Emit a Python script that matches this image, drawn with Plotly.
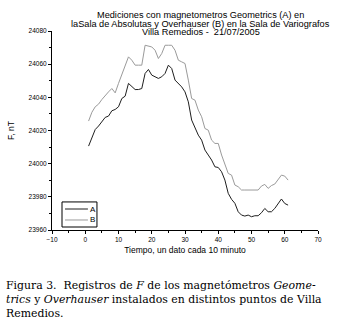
import plotly.graph_objects as go

x_vals = list(range(1, 62))

series_a = [24010.6, 24016.0, 24020.6, 24022.7, 24025.3, 24027.9, 24028.7, 24031.9, 24032.7, 24034.3,
            24039.3, 24040.7, 24048.4, 24046.3, 24044.7, 24044.7, 24045.3, 24054.4, 24056.8, 24053.4,
            24052.5, 24051.4, 24052.4, 24054.4, 24059.4, 24057.4, 24050.4, 24048.4, 24046.3, 24043.3,
            24037.3, 24026.3, 24021.2, 24017.2, 24014.2, 24008.2, 24005.2, 24002.2, 23998.1, 23997.7,
            23995.1, 23990.1, 23982.1, 23978.5, 23976.1, 23971.0, 23969.0, 23968.4, 23969.0, 23968.0,
            23968.6, 23968.6, 23970.4, 23973.0, 23971.0, 23971.0, 23973.0, 23976.0, 23978.7, 23976.0,
            23975.0]

series_b = [24025.7, 24031.0, 24034.3, 24035.9, 24038.7, 24041.3, 24043.3, 24045.3, 24042.7, 24048.4,
            24053.4, 24059.4, 24064.4, 24062.4, 24059.4, 24059.4, 24059.4, 24071.4, 24070.8, 24070.4,
            24068.4, 24063.4, 24066.4, 24071.4, 24071.4, 24071.4, 24068.4, 24062.4, 24061.4, 24060.4,
            24050.4, 24039.3, 24038.3, 24032.3, 24028.3, 24021.2, 24020.2, 24014.2, 24012.2, 24012.2,
            24005.2, 24000.2, 23994.1, 23993.1, 23987.1, 23986.1, 23984.1, 23984.1, 23984.1, 23984.1,
            23984.1, 23984.1, 23986.5, 23987.5, 23985.1, 23986.8, 23987.7, 23990.1, 23993.1, 23992.5,
            23990.1]

series_names = ["A", "B"]
series_colors = ["#1e1e1e", "#9a9a9a"]

title_lines = ["Mediciones con magnetometros Geometrics (A) en",
               "laSala de Absolutas y Overhauser (B) en la Sala de Variografos",
               "Villa Remedios -  21/07/2005"]

caption_lines = ["Figura 3.  Registros de <i>F</i> de los magnetómetros <i>Geome-</i>",
                 "<i>trics</i> y <i>Overhauser</i> instalados en distintos puntos de Villa",
                 "Remedios."]

fig = go.Figure()
for name, ys, col in zip(series_names, [series_a, series_b], series_colors):
    fig.add_trace(go.Scatter(x=x_vals, y=ys, mode="lines", name=name,
                             line=dict(color=col, width=1), showlegend=False))

sans = "Liberation Sans, Arial, sans-serif"
axis_common = dict(showline=True, linecolor="black", linewidth=1, showgrid=False, zeroline=False,
                   ticks="outside", ticklen=3, tickwidth=1, tickcolor="black", tickformat="d",
                   tickfont=dict(family=sans, size=6.5, color="black"))

fig.update_layout(
    width=342, height=325,
    margin=dict(l=52, r=24, t=31, b=95),
    paper_bgcolor="white", plot_bgcolor="white",
    showlegend=False,
    xaxis=dict(range=[-10, 70], dtick=10, tick0=0,
               minor=dict(ticks="outside", ticklen=2, dtick=5, tickcolor="black"),
               title=dict(text="Tiempo, un dato cada 10 minuto", standoff=5,
                          font=dict(family=sans, size=8.5, color="black")),
               **axis_common),
    yaxis=dict(range=[23960, 24080], dtick=20, tick0=23960,
               minor=dict(ticks="outside", ticklen=2, dtick=10, tickcolor="black"),
               title=dict(text="F, nT", standoff=12,
                          font=dict(family=sans, size=8.5, color="black")),
               **axis_common),
)

# compact legend box (drawn in paper coordinates, like the original's small framed key)
fig.add_shape(type="rect", xref="paper", yref="paper", x0=0.0376, x1=0.169, y0=0.015, y1=0.141,
              line=dict(color="black", width=1), fillcolor="white", layer="above")
for name, col, ly in zip(series_names, series_colors, [0.1055, 0.0503]):
    fig.add_shape(type="line", xref="paper", yref="paper", x0=0.049, x1=0.135, y0=ly, y1=ly,
                  line=dict(color=col, width=1), layer="above")
    fig.add_annotation(text=name, xref="paper", yref="paper", x=0.139, y=ly, xanchor="left",
                       yanchor="middle", showarrow=False, borderpad=0,
                       font=dict(family=sans, size=8, color="black"))

for i, t in enumerate(title_lines):
    fig.add_annotation(text=t, xref="paper", yref="paper", x=0.56, y=1, xanchor="center",
                       yanchor="middle", yshift=16 - 8.6 * i, showarrow=False, borderpad=0,
                       font=dict(family=sans, size=9.2, color="black"))

for i, t in enumerate(caption_lines):
    fig.add_annotation(text=t, xref="paper", yref="paper", x=0, y=0, xanchor="left",
                       yanchor="middle", xshift=-48, yshift=-55 - 14 * i, showarrow=False,
                       font=dict(family="DejaVu Serif, serif", size=10.9, color="black"))

fig.write_html("out.html", config={"displayModeBar": False},
               post_script="document.body.style.margin='0';")
